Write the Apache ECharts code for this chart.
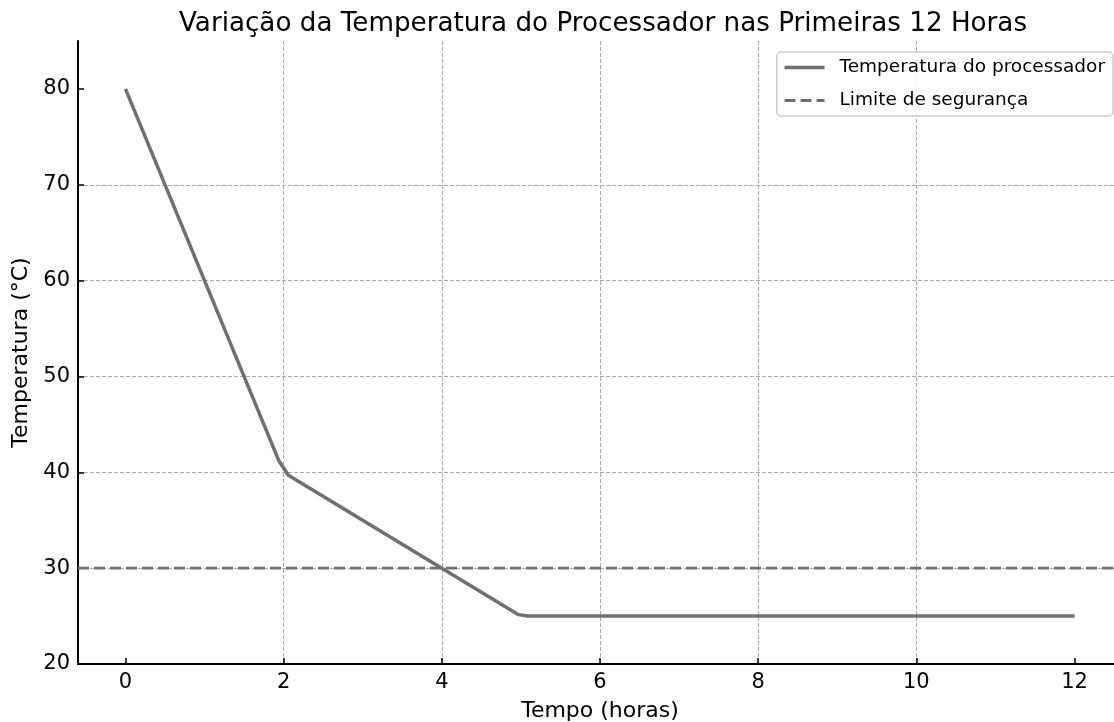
<!DOCTYPE html>
<html>
<head>
<meta charset="utf-8">
<script src="https://cdn.jsdelivr.net/npm/echarts@6/dist/echarts.min.js"></script>
<style>
  html, body { margin: 0; padding: 0; background: #fff; }
  #chart { width: 1114px; height: 722px; }
</style>
</head>
<body>
<div id="chart"></div>
<script>
// pontos
const horas = [0, 1.94, 2.06, 4.97, 5.09, 12];
const temperatura = [80, 41.2, 39.7, 25.15, 25, 25];
const limiteSeguranca = 30;
const xTicks = [0, 2, 4, 6, 8, 10, 12];
const yTicks = [20, 30, 40, 50, 60, 70, 80];
const xLimites = [-0.6, 12.6];
const yLimites = [20, 85];

const font = 'DejaVu Sans';
const cinza = '#707070';

const chart = echarts.init(document.getElementById('chart'));

chart.setOption({
  animation: false,
  title: {
    text: 'Variação da Temperatura do Processador nas Primeiras 12 Horas',
    left: 598,
    textAlign: 'center',
    top: 6,
    textStyle: { fontFamily: font, fontSize: 26.2, fontWeight: 'normal', color: '#000' }
  },
  legend: {
    orient: 'vertical',
    right: 1,
    top: 52,
    padding: [6, 8, 6, 6],
    itemWidth: 40,
    itemHeight: 16,
    itemGap: 14,
    backgroundColor: 'rgba(255,255,255,0.8)',
    borderColor: '#cccccc',
    borderWidth: 1.5,
    borderRadius: 4,
    itemStyle: { color: 'transparent', opacity: 0, borderWidth: 0 },
    textStyle: { fontFamily: font, fontSize: 18.5, color: '#000', padding: [0, 0, 0, 10] },
    data: [
      { name: 'Temperatura do processador', lineStyle: { width: 3.5 } },
      { name: 'Limite de segurança', lineStyle: { width: 2.8 } }
    ]
  },
  grid: { left: 78, right: -8, top: 41, bottom: 58, outerBoundsMode: 'none' },
  xAxis: {
    type: 'value',
    min: xLimites[0],
    max: xLimites[1],
    splitNumber: 7,
    name: 'Tempo (horas)',
    nameLocation: 'middle',
    nameGap: 36,
    nameTextStyle: { fontFamily: font, fontSize: 22, color: '#000' },
    axisLine: { onZero: false, lineStyle: { color: '#000', width: 2 } },
    axisTick: { inside: true, length: 6, customValues: xTicks, lineStyle: { color: '#000', width: 1.5 } },
    axisLabel: { customValues: xTicks, fontFamily: font, fontSize: 21, color: '#000', margin: 8 },
    splitLine: {
      show: true, showMinLine: false, showMaxLine: false,
      lineStyle: { color: '#aaaaaa', width: 1, type: [4, 2] }
    }
  },
  yAxis: {
    type: 'value',
    min: yLimites[0],
    max: yLimites[1],
    interval: 10,
    name: 'Temperatura (°C)',
    nameLocation: 'middle',
    nameGap: 44,
    nameTextStyle: { fontFamily: font, fontSize: 22, color: '#000' },
    axisLine: { show: true, onZero: false, lineStyle: { color: '#000', width: 2 } },
    axisTick: { show: true, inside: true, length: 6, customValues: yTicks, lineStyle: { color: '#000', width: 1.5 } },
    axisLabel: { customValues: yTicks, fontFamily: font, fontSize: 21, color: '#000', margin: 8 },
    splitLine: {
      show: true, showMinLine: false, showMaxLine: false,
      lineStyle: { color: '#aaaaaa', width: 1, type: [4, 2] }
    }
  },
  series: [
    {
      name: 'Temperatura do processador',
      type: 'line',
      showSymbol: false,
      symbol: 'none',
      color: cinza,
      lineStyle: { color: cinza, width: 3.5 },
      data: horas.map((h, i) => [h, temperatura[i]]),
      z: 3
    },
    {
      name: 'Limite de segurança',
      type: 'line',
      showSymbol: false,
      symbol: 'none',
      color: cinza,
      lineStyle: { color: cinza, width: 2.8, type: [11, 5] },
      data: xLimites.map(x => [x, limiteSeguranca]),
      z: 2
    }
  ]
});
</script>
</body>
</html>
